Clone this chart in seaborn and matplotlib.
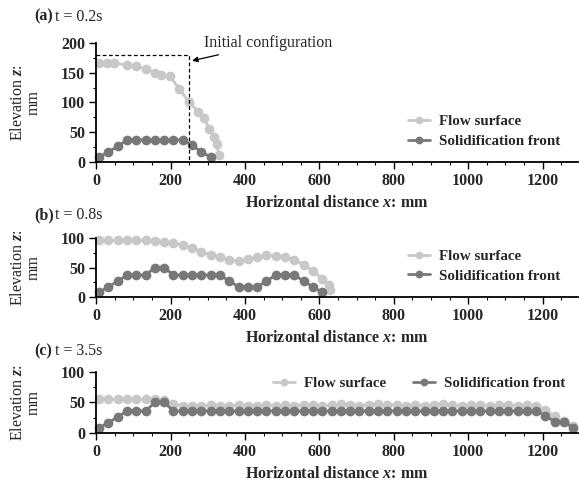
import seaborn as sns
import pandas as pd
import matplotlib.pyplot as plt
from matplotlib.ticker import MultipleLocator

# (a) t = 0.2s
a_flow_x = [8, 29, 47, 83, 108, 133, 157, 175, 199, 224, 250, 275, 291, 304, 318, 324, 331]
a_flow_z = [166, 166, 166, 163, 161, 156, 150, 146, 144, 122, 101, 84, 73, 56, 42, 30, 11]
a_sol_x = [8, 33, 58, 83, 108, 133, 158, 183, 208, 233, 258, 283, 308]
a_sol_z = [8, 17, 26, 37, 37, 37, 37, 37, 37, 37, 28, 17, 8]

# (b) t = 0.8s
b_flow_x = [8, 33, 58, 83, 108, 133, 158, 183, 208, 233, 258, 283, 308, 333, 358, 383,
            408, 433, 458, 483, 508, 533, 558, 583, 608, 625, 630]
b_flow_z = [96, 96, 96, 96, 96, 96, 95, 93, 91, 89, 83, 77, 72, 68, 63, 61,
            64, 68, 71, 70, 68, 63, 55, 44, 31, 20, 12]
b_sol_x = [8, 33, 58, 83, 108, 133, 158, 183, 208, 233, 258, 283, 308, 333, 358, 383,
           408, 433, 458, 483, 508, 533, 558, 583, 608]
b_sol_z = [8, 17, 27, 37, 37, 37, 50, 50, 37, 37, 37, 37, 37, 37, 27, 17,
           17, 17, 27, 37, 37, 37, 27, 17, 8]

# (c) t = 3.5s
c_x = [8, 33, 58, 83, 108, 133, 158, 183, 208, 233, 258, 283, 308, 333, 358, 383,
       408, 433, 458, 483, 508, 533, 558, 583, 608, 633, 658, 683, 708, 733, 758, 783,
       808, 833, 858, 883, 908, 933, 958, 983, 1008, 1033, 1058, 1083, 1108, 1133,
       1158, 1183, 1208, 1233, 1258, 1283]
c_flow_z = [55, 55, 55, 55, 55, 55, 55, 54, 48, 44, 45, 44, 46, 45, 44, 46,
            45, 44, 46, 45, 46, 45, 46, 46, 45, 46, 47, 46, 45, 46, 47, 46,
            46, 45, 46, 45, 46, 47, 46, 45, 46, 46, 45, 46, 46, 45,
            46, 45, 38, 27, 19, 12]
c_sol_z = [8, 17, 26, 36, 36, 36, 50, 50, 36, 36, 36, 36, 36, 36, 36, 36,
           36, 36, 36, 36, 36, 36, 36, 36, 36, 36, 36, 36, 36, 36, 36, 36,
           36, 36, 36, 36, 36, 36, 36, 36, 36, 36, 36, 36, 36, 36,
           36, 36, 28, 18, 18, 8]

series = ['Flow surface', 'Solidification front']
colors = {'Flow surface': '#c8c8c8', 'Solidification front': '#787878'}

panels = [
    ('(a)', 't = 0.2s', a_flow_x, a_flow_z, a_sol_x, a_sol_z, 200),
    ('(b)', 't = 0.8s', b_flow_x, b_flow_z, b_sol_x, b_sol_z, 100),
    ('(c)', 't = 3.5s', c_x, c_flow_z, c_x, c_sol_z, 100),
]

sns.set_style('ticks')
plt.rcParams['font.family'] = ['Liberation Serif', 'DejaVu Serif']
plt.rcParams['mathtext.fontset'] = 'custom'
plt.rcParams['mathtext.it'] = 'Liberation Serif:italic:bold'
plt.rcParams['mathtext.rm'] = 'Liberation Serif'

fig = plt.figure(figsize=(5.79, 4.82), dpi=100)
# axes boxes in figure fraction: left, bottom, width, height
boxes = [[0.166, 0.664, 0.832, 0.247],
         [0.166, 0.384, 0.832, 0.122],
         [0.166, 0.102, 0.832, 0.126]]
title_y = [0.965, 0.554, 0.272]
fs = 11.5
leg_prop = {'weight': 'bold', 'size': 10.8}

for (tag, tlabel, fx, fz, sx, sz, ymax), box, ty in zip(panels, boxes, title_y):
    ax = fig.add_axes(box)
    df = pd.concat([
        pd.DataFrame({'x': fx, 'z': fz, 'series': series[0]}),
        pd.DataFrame({'x': sx, 'z': sz, 'series': series[1]}),
    ])
    sns.lineplot(data=df, x='x', y='z', hue='series', palette=colors, estimator=None,
                 sort=False, marker='o', markersize=7, markeredgewidth=0, lw=2,
                 legend=False, ax=ax, clip_on=False)
    ax.set_xlim(0, 1295)
    ax.set_ylim(0, ymax)
    ax.xaxis.set_major_locator(MultipleLocator(200))
    ax.xaxis.set_minor_locator(MultipleLocator(50))
    ax.yaxis.set_major_locator(MultipleLocator(50))
    ax.yaxis.set_minor_locator(MultipleLocator(25))
    sns.despine(ax=ax)
    for s in ['left', 'bottom']:
        ax.spines[s].set_linewidth(1.3)
        ax.spines[s].set_color('black')
    ax.tick_params(which='major', length=5, width=1, labelsize=fs, pad=3, color='black')
    ax.tick_params(which='minor', length=2.2, width=0.8, color='black')
    for lab in ax.get_xticklabels() + ax.get_yticklabels():
        lab.set_fontweight('bold')
    ax.set_xlabel('Horizontal distance $x$: mm', fontsize=fs, fontweight='bold', labelpad=4)
    ax.set_ylabel('Elevation $z$:\nmm', fontsize=fs, va='center', linespacing=1.0)
    ax.yaxis.set_label_coords(-0.146, 0.5)
    fig.text(0.06, ty, tag, fontsize=11.5, fontweight='bold', va='center')
    fig.text(0.095, ty, tlabel, fontsize=11.5, va='center')

    handles = ax.get_lines()[:2]
    if tag == '(c)':
        ax.legend(handles, series, loc='center left', bbox_to_anchor=(0.367, 0.817), ncol=2,
                  frameon=False, handlelength=1.5, handletextpad=0.55, columnspacing=1.8,
                  borderpad=0, borderaxespad=0, markerscale=0.8, prop=leg_prop)
    else:
        ax.legend(handles, series, loc='center left',
                  bbox_to_anchor=(0.647, 0.256 if tag == '(a)' else 0.525),
                  frameon=False, handlelength=1.5, handletextpad=0.55, labelspacing=0.4,
                  borderpad=0, borderaxespad=0, markerscale=0.8, prop=leg_prop)

    if tag == '(a)':
        ax.plot([0, 250, 250], [180, 180, 0], color='black', ls='--', lw=0.9, dashes=(3, 2))
        ax.annotate('Initial configuration', xy=(258, 170), xytext=(290, 199),
                    fontsize=fs, va='center', ha='left', annotation_clip=False,
                    arrowprops=dict(arrowstyle='-|>', color='black', lw=0.9,
                                    shrinkA=0, shrinkB=0, mutation_scale=8))

fig.savefig('out.png', dpi=100)
